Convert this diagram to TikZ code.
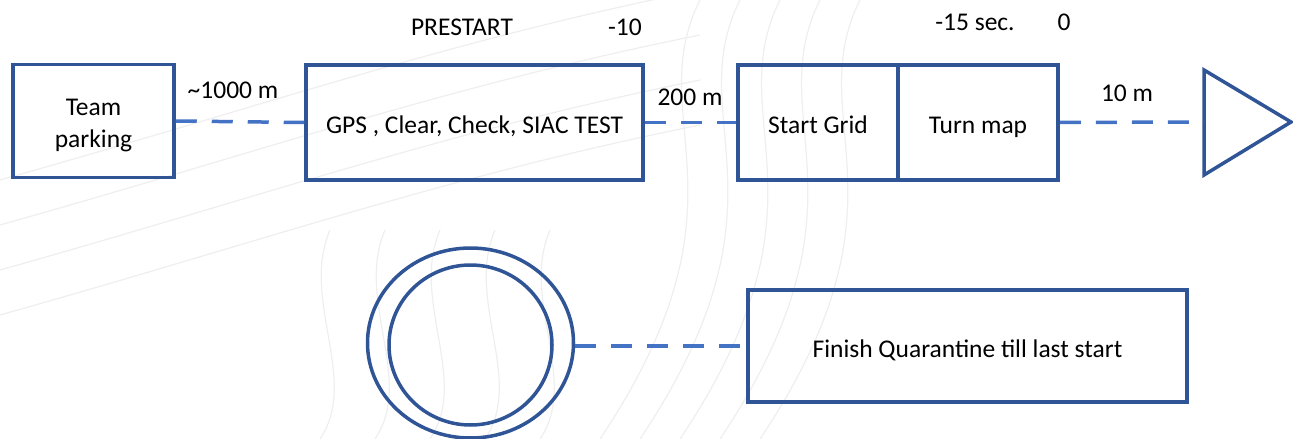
\documentclass[tikz,border=0pt]{standalone}
\usepackage{fontspec}
\setmainfont{Carlito}
\usetikzlibrary{shapes.geometric}
\definecolor{boxblue}{HTML}{2F5597}
\definecolor{lineblue}{HTML}{4472C4}
\definecolor{contour}{HTML}{EEEEEE}
\begin{document}
\begin{tikzpicture}[x=1pt,y=-1pt,
  box/.style={draw=boxblue,line width=3.5pt,minimum height=113pt,inner sep=0pt,align=center,font=\fontsize{25.5}{32}\selectfont,text height=22pt,text depth=0pt},
  conn/.style={draw=lineblue,line width=3.5pt,dash pattern=on 21pt off 15pt},
  lbl/.style={font=\fontsize{25.5}{30}\selectfont,inner sep=0pt}]
\useasboundingbox (0,0) rectangle (1293,439);
% faint background contours
\foreach \o in {0,45,90,135}{
  \draw[contour,line width=1.2pt] (0,180+\o) .. controls (250,110+\o) and (450,40+\o) .. (700,-10+\o);
}
\foreach \o in {0,40,80,120,160}{
  \draw[contour,line width=1.2pt] (700+\o,0) .. controls (640+\o,120) and (760+\o,200) .. (600+\o,439);
}
\foreach \o in {0,55,110,165,220}{
  \draw[contour,line width=1.2pt] (330+\o,230) .. controls (300+\o,300) and (360+\o,380) .. (320+\o,439);
}
\node[box,minimum width=161pt] (park) at (93.5,121) {};
\node[font=\fontsize{25.5}{32}\selectfont,align=center,inner sep=0pt] (parkt) at (93.5,126) {Team\\parking};
\node[box,minimum width=337pt,minimum height=115pt] (gps) at (474.5,122.5) {GPS , Clear, Check, SIAC TEST};
\node[box,minimum width=160pt,minimum height=115pt] (grid) at (818,122.5) {Start Grid};
\node[box,minimum width=160pt,minimum height=115pt] (turn) at (978,122.5) {Turn map};
\coordinate (triT) at (1204,70);
\coordinate (triL) at (1204,122);
\coordinate (triA) at (1291,122);
\coordinate (triB) at (1204,175);
\draw[boxblue,line width=3.5pt,line join=miter] (triT) -- (triA) -- (triB) -- cycle;
\node[draw=boxblue,line width=3.5pt,ellipse,minimum width=206pt,minimum height=190pt,inner sep=0pt] (outer) at (470.5,343) {};
\node[draw=boxblue,line width=3.5pt,ellipse,minimum width=163pt,minimum height=160pt,inner sep=0pt] (inner) at (470.5,345) {};
\node[box,minimum width=439pt,minimum height=112pt] (fin) at (967.5,346) {Finish Quarantine till last start};
\path[conn] (park.east) -- (gps.west);
\path[conn] (gps.east) -- (grid.west);
\path[conn] (turn.east) -- (triL);
\path[conn] (outer.east |- fin.west) -- (fin.west);
\node[lbl] (l1000) at (233,90) {\textasciitilde1000 m};
\node[lbl] (l200) at (690,97) {200 m};
\node[lbl] (l10) at (1127,93) {10 m};
\node[lbl] (pre) at (462,27) {PRESTART};
\node[lbl] (m10) at (625,27) {-10};
\node[lbl] (m15) at (975,22) {-15 sec.};
\node[lbl] (zero) at (1064,22) {0};
\end{tikzpicture}
\end{document}
